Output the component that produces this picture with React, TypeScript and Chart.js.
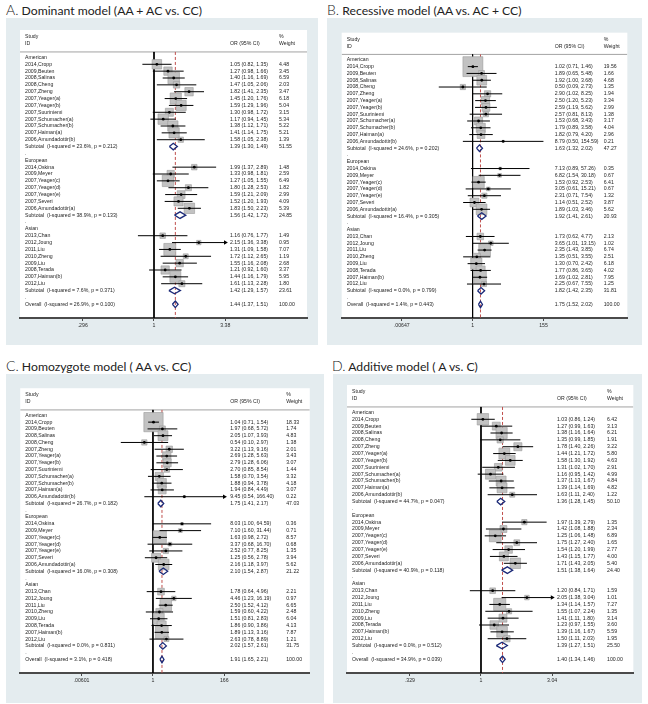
import React, { useEffect, useRef } from "react";
import { Chart, registerables } from "chart.js";

Chart.register(...registerables);

// ---------------- data ----------------
const groupNames = ["American", "European", "Asian"];
const americanStudies = [
  "2014,Cropp", "2009,Beuten", "2008,Salinas", "2008,Cheng", "2007,Zheng", "2007,Yeager(a)",
  "2007,Yeager(b)", "2007,Suuriniemi", "2007,Schumacher(a)", "2007,Schumacher(b)", "2007,Haiman(a)",
  "2006,Amundadottir(b)",
];
const europeanStudies = [
  "2014,Oskina", "2009,Meyer", "2007,Yeager(c)", "2007,Yeager(d)", "2007,Yeager(e)", "2007,Severi",
  "2006,Amundadottir(a)",
];
const asianStudies = [
  "2013,Chan", "2012,Joung", "2011,Liu", "2010,Zheng", "2009,Liu", "2008,Terada", "2007,Haiman(b)", "2012,Liu",
];

// A. Dominant model
const domOR = [1.05, 1.27, 1.40, 1.47, 1.82, 1.45, 1.59, 1.30, 1.17, 1.38, 1.41, 1.58, 1.99, 1.33, 1.27, 1.80, 1.59, 1.52, 1.83, 1.16, 2.15, 1.31, 1.72, 1.55, 1.21, 1.44, 1.61];
const domLo = [0.82, 0.98, 1.16, 1.05, 1.41, 1.20, 1.29, 0.98, 0.94, 1.12, 1.14, 1.05, 1.37, 0.98, 1.05, 1.28, 1.21, 1.20, 1.50, 0.76, 1.36, 1.09, 1.12, 1.16, 0.92, 1.16, 1.13];
const domHi = [1.35, 1.66, 1.69, 2.06, 2.35, 1.76, 1.96, 1.72, 1.45, 1.71, 1.75, 2.38, 2.89, 1.81, 1.55, 2.53, 2.09, 1.93, 2.23, 1.77, 3.38, 1.58, 2.65, 2.08, 1.60, 1.79, 2.28];
const domW = [4.48, 3.45, 6.59, 2.03, 3.47, 6.18, 5.04, 3.15, 5.34, 5.22, 5.21, 1.39, 1.48, 2.59, 6.49, 1.82, 2.99, 4.09, 5.39, 1.49, 0.95, 7.07, 1.19, 2.68, 3.37, 5.95, 1.80];
const domSubOR = [1.39, 1.56, 1.42];
const domSubLo = [1.30, 1.42, 1.29];
const domSubHi = [1.49, 1.72, 1.57];
const domSubW = [51.55, 24.85, 23.61];
const domSubI2 = [23.6, 38.9, 7.6];
const domSubP = [0.212, 0.133, 0.371];
const domOverall = [1.44, 1.37, 1.51];
const domOverallStats = [26.9, 0.100];
const domTicks = [0.296, 1, 3.38];
const domTickLabels = [".296", "1", "3.38"];

// B. Recessive model
const recOR = [1.02, 1.89, 1.92, 0.50, 2.90, 2.50, 2.59, 2.57, 1.53, 1.79, 1.82, 8.79, 7.13, 6.82, 1.53, 3.05, 2.31, 1.14, 1.89, 1.73, 3.65, 2.35, 1.35, 1.30, 1.77, 1.69, 2.25];
const recLo = [0.71, 0.65, 1.00, 0.09, 1.02, 1.20, 1.19, 0.81, 0.68, 0.89, 0.79, 0.50, 0.89, 1.54, 0.92, 0.61, 0.71, 0.51, 1.03, 0.62, 1.01, 1.43, 0.51, 0.70, 0.86, 1.02, 0.67];
const recHi = [1.46, 5.48, 3.68, 2.73, 8.25, 5.23, 5.62, 8.13, 3.43, 3.58, 4.20, 154.59, 57.26, 30.18, 2.53, 15.21, 7.54, 2.52, 3.46, 4.77, 13.15, 3.85, 3.55, 2.42, 3.65, 2.81, 7.55];
const recW = [19.56, 1.66, 4.68, 1.35, 1.94, 3.34, 2.99, 1.38, 3.17, 4.04, 2.96, 0.21, 0.35, 0.67, 6.41, 0.67, 1.32, 3.87, 5.62, 2.13, 1.02, 6.74, 2.51, 6.18, 4.02, 7.95, 1.25];
const recSubOR = [1.63, 1.92, 1.82];
const recSubLo = [1.32, 1.41, 1.42];
const recSubHi = [2.02, 2.61, 2.35];
const recSubW = [47.27, 20.93, 31.81];
const recSubI2 = [24.6, 16.4, 0.0];
const recSubP = [0.202, 0.305, 0.799];
const recOverall = [1.75, 1.52, 2.02];
const recOverallStats = [1.4, 0.443];
const recTicks = [0.00647, 1, 155];
const recTickLabels = [".00647", "1", "155"];

// C. Homozygote model
const homOR = [1.04, 1.97, 2.05, 0.54, 3.22, 2.69, 2.79, 2.70, 1.58, 1.88, 1.94, 9.45, 8.03, 7.10, 1.63, 3.37, 2.52, 1.25, 2.16, 1.78, 4.46, 2.50, 1.59, 1.51, 1.86, 1.89, 2.63];
const homLo = [0.71, 0.68, 1.07, 0.10, 1.13, 1.28, 1.28, 0.85, 0.70, 0.94, 0.84, 0.54, 1.00, 1.60, 0.98, 0.68, 0.77, 0.56, 1.18, 0.64, 1.23, 1.52, 0.60, 0.81, 0.90, 1.13, 0.78];
const homHi = [1.54, 5.72, 3.93, 2.97, 9.16, 5.63, 6.06, 8.54, 3.54, 3.78, 4.49, 166.40, 64.59, 31.44, 2.72, 16.70, 8.25, 2.78, 3.97, 4.96, 16.19, 4.12, 4.22, 2.83, 3.86, 3.16, 8.89];
const homW = [18.33, 1.74, 4.83, 1.38, 2.01, 3.43, 3.07, 1.44, 3.32, 4.18, 3.07, 0.22, 0.36, 0.71, 8.57, 0.68, 1.35, 3.94, 5.62, 2.21, 0.97, 6.65, 2.48, 6.04, 4.13, 7.87, 1.21];
const homSubOR = [1.75, 2.10, 2.02];
const homSubLo = [1.41, 1.54, 1.57];
const homSubHi = [2.17, 2.87, 2.61];
const homSubW = [47.03, 21.22, 31.75];
const homSubI2 = [26.7, 16.0, 0.0];
const homSubP = [0.182, 0.308, 0.831];
const homOverall = [1.91, 1.65, 2.21];
const homOverallStats = [3.1, 0.418];
const homTicks = [0.00601, 1, 166];
const homTickLabels = [".00601", "1", "166"];

// D. Additive model
const addOR = [1.03, 1.27, 1.38, 1.35, 1.78, 1.44, 1.58, 1.31, 1.16, 1.37, 1.39, 1.63, 1.97, 1.42, 1.25, 1.75, 1.54, 1.43, 1.71, 1.20, 2.05, 1.34, 1.55, 1.41, 1.23, 1.39, 1.50];
const addLo = [0.86, 0.99, 1.16, 0.99, 1.40, 1.21, 1.30, 1.02, 0.95, 1.13, 1.14, 1.11, 1.39, 1.08, 1.06, 1.27, 1.20, 1.15, 1.43, 0.84, 1.38, 1.14, 1.07, 1.11, 0.97, 1.16, 1.11];
const addHi = [1.24, 1.63, 1.64, 1.85, 2.26, 1.72, 1.92, 1.70, 1.42, 1.67, 1.69, 2.40, 2.79, 1.88, 1.48, 2.40, 1.99, 1.77, 2.05, 1.71, 3.04, 1.57, 2.24, 1.80, 1.55, 1.67, 2.03];
const addW = [6.42, 3.13, 6.21, 1.91, 3.22, 5.80, 4.63, 2.91, 4.99, 4.84, 4.82, 1.22, 1.35, 2.34, 6.89, 1.65, 2.77, 4.00, 5.40, 1.59, 1.01, 7.27, 1.35, 3.14, 3.60, 5.59, 1.95];
const addSubOR = [1.36, 1.51, 1.39];
const addSubLo = [1.28, 1.38, 1.27];
const addSubHi = [1.45, 1.64, 1.51];
const addSubW = [50.10, 24.40, 25.50];
const addSubI2 = [44.7, 40.9, 0.0];
const addSubP = [0.047, 0.118, 0.512];
const addOverall = [1.40, 1.34, 1.46];
const addOverallStats = [34.9, 0.039];
const addTicks = [0.329, 1, 3.04];
const addTickLabels = [".329", "1", "3.04"];

// ---------------- styling / layout ----------------
const FONT = '"Liberation Sans", Arial, Helvetica, sans-serif';
const FS = 5.2;
const BG = "#e4ecef";
const BOX_FILL = "#c2c2c2";
const BOX_EDGE = "#9a9a9a";
const DIAMOND = "#1c2a78";
const DASH = "#c0504d";
const Y_MIN = -4;
const Y_MAX = 38;
const HDR = -0.8;

type Panel = {
  letter: string; title: string;
  or: number[]; lo: number[]; hi: number[]; w: number[];
  subOR: number[]; subLo: number[]; subHi: number[]; subW: number[]; subI2: number[]; subP: number[];
  overall: number[]; overallStats: number[];
  ticks: number[]; tickLabels: string[];
  left: number; top: number; cw: number; ch: number;
  pad: { left: number; top: number; right: number; bottom: number };
  orCol: number; wCol: number; oneOff: number; tickPx: number;
  titleX: number; titleY: number;
};

const panels: Panel[] = [
  {
    letter: "A.", title: "Dominant model (AA + AC vs. CC)",
    or: domOR, lo: domLo, hi: domHi, w: domW,
    subOR: domSubOR, subLo: domSubLo, subHi: domSubHi, subW: domSubW, subI2: domSubI2, subP: domSubP,
    overall: domOverall, overallStats: domOverallStats, ticks: domTicks, tickLabels: domTickLabels,
    left: 6, top: 18, cw: 312, ch: 327, pad: { left: 14, top: 12, right: 11, bottom: 7 },
    orCol: 210, wCol: 259, oneOff: 134, tickPx: 71.3, titleX: 6, titleY: 2,
  },
  {
    letter: "B.", title: "Recessive model (AA vs. AC + CC)",
    or: recOR, lo: recLo, hi: recHi, w: recW,
    subOR: recSubOR, subLo: recSubLo, subHi: recSubHi, subW: recSubW, subI2: recSubI2, subP: recSubP,
    overall: recOverall, overallStats: recOverallStats, ticks: recTicks, tickLabels: recTickLabels,
    left: 327, top: 18, cw: 315, ch: 327, pad: { left: 14, top: 12, right: 8, bottom: 7 },
    orCol: 213, wCol: 262, oneOff: 134.3, tickPx: 72.7, titleX: 327, titleY: 2,
  },
  {
    letter: "C.", title: "Homozygote model ( AA vs. CC)",
    or: homOR, lo: homLo, hi: homHi, w: homW,
    subOR: homSubOR, subLo: homSubLo, subHi: homSubHi, subW: homSubW, subI2: homSubI2, subP: homSubP,
    overall: homOverall, overallStats: homOverallStats, ticks: homTicks, tickLabels: homTickLabels,
    left: 6, top: 374, cw: 318, ch: 329, pad: { left: 14, top: 11, right: 11, bottom: 10 },
    orCol: 210, wCol: 266, oneOff: 134.3, tickPx: 72.2, titleX: 6, titleY: 358,
  },
  {
    letter: "D.", title: "Additive model ( A vs. C)",
    or: addOR, lo: addLo, hi: addHi, w: addW,
    subOR: addSubOR, subLo: addSubLo, subHi: addSubHi, subW: addSubW, subI2: addSubI2, subP: addSubP,
    overall: addOverall, overallStats: addOverallStats, ticks: addTicks, tickLabels: addTickLabels,
    left: 333, top: 374, cw: 309, ch: 329, pad: { left: 14, top: 11, right: 8, bottom: 10 },
    orCol: 210, wCol: 260, oneOff: 134.3, tickPx: 71.3, titleX: 332, titleY: 358,
  },
];

type Row = { kind: string; r: number; label?: string; i?: number; g?: number };

function buildRows(): Row[] {
  const groups = [americanStudies, europeanStudies, asianStudies];
  const rows: Row[] = [];
  let r = 0;
  let k = 0;
  groups.forEach((studies, gi) => {
    rows.push({ kind: "group", r: r++, label: groupNames[gi] });
    studies.forEach((name) => rows.push({ kind: "study", r: r++, label: name, i: k++ }));
    rows.push({ kind: "sub", r: r++, g: gi });
    rows.push({ kind: "dot", r: r++ });
  });
  rows.push({ kind: "overall", r: r++ });
  return rows;
}

const f2 = (v: number) => v.toFixed(2);
const ciText = (o: number, l: number, h: number) => `${f2(o)} (${f2(l)}, ${f2(h)})`;

function makeConfig(p: Panel): any {
  const rows = buildRows();
  const W = p.cw - p.pad.left - p.pad.right;
  const lnMax = Math.log(p.ticks[2]);
  const xMin = Math.exp((-p.oneOff / p.tickPx) * lnMax);
  const xMax = Math.exp(((W - p.oneOff) / p.tickPx) * lnMax);
  const studyRows = rows.filter((r) => r.kind === "study");
  const subRows = rows.filter((r) => r.kind === "sub");
  const overallRow = rows.find((r) => r.kind === "overall")!;

  const datasets: any[] = [];
  const lineDs = (data: any[], color: string, width: number, order: number, extra: any = {}) => ({
    type: "line", data, borderColor: color, borderWidth: width, pointRadius: 0, fill: false, order, ...extra,
  });

  datasets.push(lineDs([{ x: xMin, y: HDR }, { x: xMax, y: HDR }], "#8c8c8c", 0.8, 40));
  datasets.push(lineDs([{ x: 1, y: HDR }, { x: 1, y: Y_MAX }], "#000", 1, 39));
  datasets.push(lineDs([{ x: p.overall[0], y: HDR }, { x: p.overall[0], y: Y_MAX }], DASH, 1, 38, { borderDash: [3, 2] }));

  // weighted boxes
  datasets.push({
    type: "line", showLine: false, order: 30,
    data: studyRows.map((s) => ({ x: p.or[s.i!], y: s.r })),
    pointStyle: "rect",
    pointRadius: studyRows.map((s) => (4.5 * Math.sqrt(p.w[s.i!])) / (2 * Math.SQRT1_2)),
    pointBackgroundColor: BOX_FILL, pointBorderColor: BOX_EDGE, pointBorderWidth: 0.6,
  });

  // confidence intervals
  studyRows.forEach((s) => {
    datasets.push(lineDs([{ x: p.lo[s.i!], y: s.r }, { x: p.hi[s.i!], y: s.r }], "#000", 1, 20));
  });

  // arrows for CIs reaching the axis end tick
  const arrowRows = studyRows.filter((s) => p.hi[s.i!] >= p.ticks[2]);
  if (arrowRows.length) {
    datasets.push({
      type: "line", showLine: false, order: 15,
      data: arrowRows.map((s) => ({ x: p.hi[s.i!], y: s.r })),
      pointStyle: "triangle", pointRotation: 90, pointRadius: 2.6,
      pointBackgroundColor: "#000", pointBorderColor: "#000", pointBorderWidth: 0,
    });
  }

  // point estimates
  datasets.push({
    type: "line", showLine: false, order: 10,
    data: studyRows.map((s) => ({ x: p.or[s.i!], y: s.r })),
    pointStyle: "circle", pointRadius: 1.4,
    pointBackgroundColor: "#000", pointBorderColor: "#000", pointBorderWidth: 0,
  });

  // diamonds
  const diamond = (o: number, l: number, h: number, r: number) =>
    lineDs(
      [{ x: l, y: r }, { x: o, y: r - 0.48 }, { x: h, y: r }, { x: o, y: r + 0.48 }, { x: l, y: r }],
      DIAMOND, 1.3, 5, { fill: { value: r }, backgroundColor: "#fff" }
    );
  subRows.forEach((s) => datasets.push(diamond(p.subOR[s.g!], p.subLo[s.g!], p.subHi[s.g!], s.r)));
  datasets.push(diamond(p.overall[0], p.overall[1], p.overall[2], overallRow.r));

  const bgPlugin = {
    id: "bg",
    beforeDraw(chart: any) {
      const { ctx, width, height, chartArea: a } = chart;
      ctx.save();
      ctx.fillStyle = BG;
      ctx.fillRect(0, 0, width, height);
      ctx.fillStyle = "#fff";
      ctx.fillRect(a.left, a.top, a.right - a.left, a.bottom - a.top);
      ctx.restore();
    },
  };

  const textPlugin = {
    id: "txt",
    afterDatasetsDraw(chart: any) {
      const { ctx, chartArea: a, scales } = chart;
      const y = scales.y;
      const lx = a.left + 5;
      const ox = a.left + p.orCol;
      const wx = a.left + p.wCol;
      ctx.save();
      ctx.font = `${FS}px ${FONT}`;
      ctx.fillStyle = "#1e1e1e";
      ctx.textBaseline = "middle";
      ctx.textAlign = "left";
      const put = (t: string, x: number, r: number) => ctx.fillText(t, x, y.getPixelForValue(r));
      put("Study", lx, -3);
      put("ID", lx, -2);
      put("OR (95% CI)", ox, -2);
      put("%", wx, -3);
      put("Weight", wx, -2);
      rows.forEach((row) => {
        if (row.kind === "group") put(row.label!, lx, row.r);
        else if (row.kind === "dot") put(".", lx, row.r);
        else if (row.kind === "study") {
          const i = row.i!;
          put(row.label!, lx, row.r);
          put(ciText(p.or[i], p.lo[i], p.hi[i]), ox, row.r);
          put(f2(p.w[i]), wx, row.r);
        } else if (row.kind === "sub") {
          const g = row.g!;
          put(`Subtotal  (I-squared = ${p.subI2[g].toFixed(1)}%, p = ${p.subP[g].toFixed(3)})`, lx, row.r);
          put(ciText(p.subOR[g], p.subLo[g], p.subHi[g]), ox, row.r);
          put(f2(p.subW[g]), wx, row.r);
        } else if (row.kind === "overall") {
          put(`Overall  (I-squared = ${p.overallStats[0].toFixed(1)}%, p = ${p.overallStats[1].toFixed(3)})`, lx, row.r);
          put(ciText(p.overall[0], p.overall[1], p.overall[2]), ox, row.r);
          put("100.00", wx, row.r);
        }
      });
      ctx.restore();
    },
  };

  return {
    type: "line",
    data: { datasets },
    plugins: [bgPlugin, textPlugin],
    options: {
      animation: false,
      responsive: false,
      devicePixelRatio: 1,
      events: [],
      layout: { padding: p.pad },
      plugins: { legend: { display: false }, tooltip: { enabled: false }, title: { display: false } },
      scales: {
        x: {
          type: "logarithmic",
          min: xMin,
          max: xMax,
          bounds: "data",
          afterBuildTicks: (scale: any) => {
            scale.ticks = p.ticks.map((v) => ({ value: v }));
          },
          afterFit: (scale: any) => {
            scale.height = 20;
          },
          border: { display: true, color: "#4a4a4a", width: 2 },
          grid: { display: true, drawOnChartArea: false, drawTicks: true, tickLength: 3, color: "#4a4a4a", lineWidth: 1 },
          ticks: {
            autoSkip: false, maxRotation: 0, minRotation: 0, padding: 1,
            color: "#2a2a2a", font: { size: FS, family: FONT },
            callback: (_v: any, idx: number) => p.tickLabels[idx],
          },
        },
        y: { type: "linear", display: false, reverse: true, min: Y_MIN, max: Y_MAX, bounds: "data" },
      },
    },
  };
}

function ForestPanel({ p }: { p: Panel }) {
  const ref = useRef<HTMLCanvasElement>(null);
  useEffect(() => {
    const chart = new Chart(ref.current!, makeConfig(p));
    return () => chart.destroy();
  }, [p]);
  return (
    <>
      <div
        style={{
          position: "absolute", left: p.titleX, top: p.titleY, whiteSpace: "nowrap",
          fontFamily: "Lato, 'Noto Sans', sans-serif", fontSize: 12.2, color: "#222", lineHeight: "16px",
        }}
      >
        <span style={{ fontSize: 14, fontWeight: 300 }}>{p.letter}</span> {p.title}
      </div>
      <canvas
        ref={ref}
        width={p.cw}
        height={p.ch}
        style={{ position: "absolute", left: p.left, top: p.top, width: p.cw, height: p.ch }}
      />
    </>
  );
}

export default function App() {
  return (
    <div style={{ position: "absolute", left: 0, top: 0, width: 648, height: 704, background: "#fff" }}>
      {panels.map((p) => (
        <ForestPanel key={p.letter} p={p} />
      ))}
    </div>
  );
}
